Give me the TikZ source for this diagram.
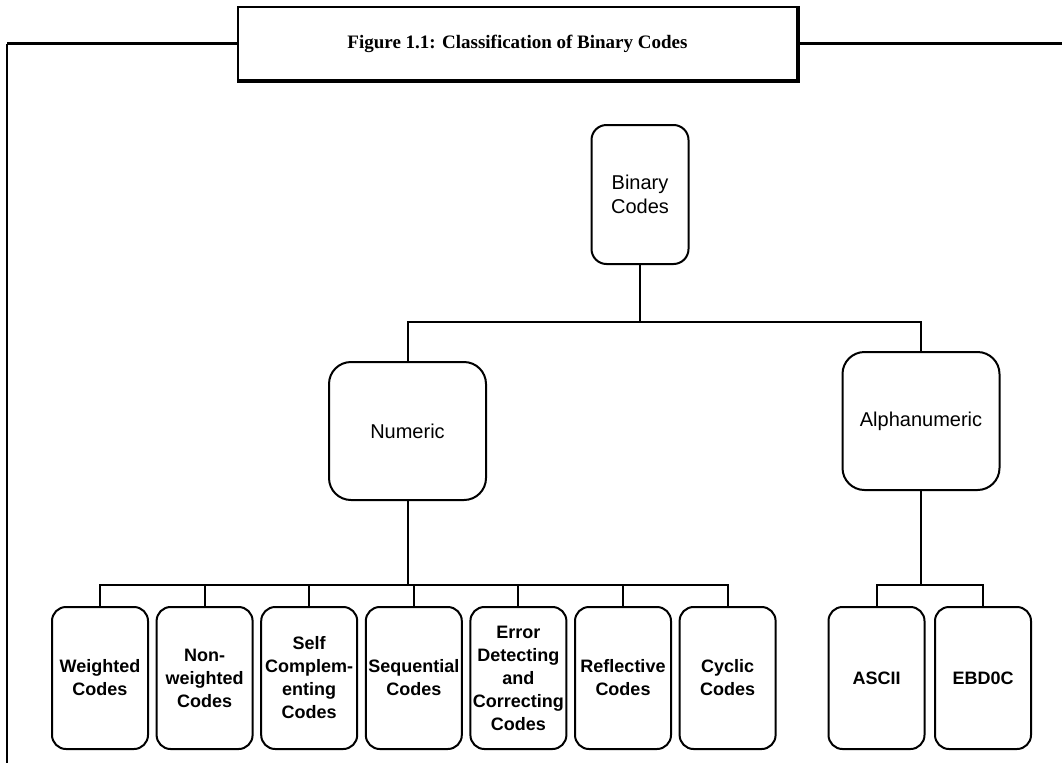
\documentclass[tikz,border=0pt]{standalone}
\usepackage{fontspec}
\setmainfont{Liberation Sans}
\newfontfamily\titlefont{Liberation Serif}
\begin{document}
\begin{tikzpicture}[x=1pt,y=-1pt,
  every node/.style={inner sep=1pt, align=center},
  topbox/.style={draw, line width=2pt, rounded corners=15pt,
    minimum width=97pt, minimum height=139pt,
    font=\fontsize{20}{24}\selectfont},
  midbox/.style={draw, line width=2pt, rounded corners=22pt,
    minimum width=157pt, minimum height=138pt,
    font=\fontsize{20}{24}\selectfont},
  leafbox/.style={draw, line width=2pt, rounded corners=14pt,
    minimum width=96pt, minimum height=142pt,
    font=\bfseries\fontsize{18}{23}\selectfont},
  conn/.style={line width=2pt},
  frameline/.style={line width=3.3pt},
  capbox/.style={draw, line width=1.6pt, minimum width=559pt, minimum height=73pt,
    font=\titlefont\bfseries\fontsize{19}{23}\selectfont}
]
\useasboundingbox (0,0) rectangle (1062,763);

% caption box with heavy right and bottom edges
\node[capbox] (cap) at (517.5,43.5) {Figure 1.1: Classification of Binary Codes};
\draw[line width=4.5pt] (cap.north east) -- (cap.south east) -- (cap.south west);

% page frame lines
\coordinate (fl) at (7,43.5);
\coordinate (fb) at (7,763);
\coordinate (fr) at (1062,43.5);
\draw[frameline] (cap.west) -- (fl);
\draw[frameline] (cap.east) -- (fr);
\draw[line width=2.4pt] (fl) -- (fb);

% tree nodes
\node[topbox] (bin) at (640,194.5) {Binary\\Codes};
\node[midbox] (num) at (407.5,431) {Numeric};
\node[midbox] (alp) at (921,421) {Alphanumeric};

\node[leafbox] (c1) at (100,678) {Weighted\\Codes};
\node[leafbox] (c2) at (204.6,678) {Non-\\weighted\\Codes};
\node[leafbox] (c3) at (309.2,678) {Self\\Complem-\\enting\\Codes};
\node[leafbox] (c4) at (413.8,678) {Sequential\\Codes};
\node[leafbox] (c5) at (518.4,678) {Error\\Detecting\\and\\Correcting\\Codes};
\node[leafbox] (c6) at (623,678) {Reflective\\Codes};
\node[leafbox] (c7) at (727.6,678) {Cyclic\\Codes};
\node[leafbox] (ascii) at (876.5,678) {ASCII};
\node[leafbox] (ebd) at (983,678) {EBD0C};

% junctions
\coordinate (j1) at (640,322);
\coordinate (j2) at (407.5,585);
\coordinate (j3) at (921,585);

% connectors
\draw[conn] (bin) -- (j1);
\draw[conn] (num.north) |- (j1) -| (alp.north);

\draw[conn] (num) -- (j2);
\draw[conn] (c1.north) |- (j2) -| (c7.north);
\foreach \c in {c2,c3,c4,c5,c6}
  \draw[conn] (\c.north) -- (\c.north |- j2);

\draw[conn] (alp) -- (j3);
\draw[conn] (ascii.north) |- (j3) -| (ebd.north);
\end{tikzpicture}
\end{document}
